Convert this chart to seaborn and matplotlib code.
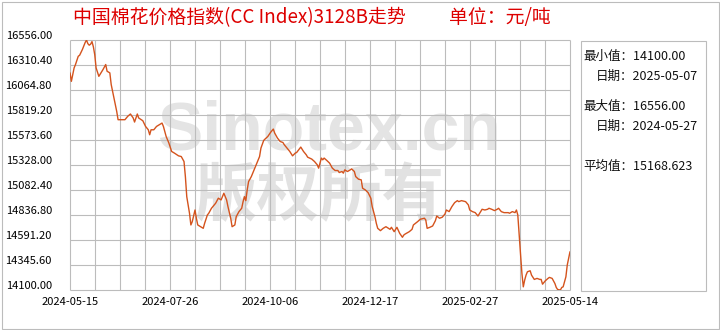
import numpy as np
import pandas as pd
import matplotlib
matplotlib.use("Agg")
import matplotlib.pyplot as plt
import matplotlib.dates as mdates
import matplotlib.transforms as mtransforms
from matplotlib.patches import Rectangle
import seaborn as sns

# ---------------- data ----------------
dates = [
    "2024-05-15", "2024-05-16", "2024-05-18", "2024-05-19", "2024-05-21", "2024-05-22", "2024-05-24",
    "2024-05-25", "2024-05-26", "2024-05-27", "2024-05-28", "2024-05-29", "2024-05-30", "2024-05-31",
    "2024-06-01", "2024-06-02", "2024-06-03", "2024-06-05", "2024-06-08", "2024-06-10", "2024-06-11",
    "2024-06-13", "2024-06-14", "2024-06-16", "2024-06-18", "2024-06-19", "2024-06-20", "2024-06-24",
    "2024-06-26", "2024-06-28", "2024-06-30",
    "2024-07-01", "2024-07-03", "2024-07-04", "2024-07-07", "2024-07-09", "2024-07-11", "2024-07-12",
    "2024-07-13", "2024-07-15", "2024-07-17", "2024-07-19", "2024-07-21", "2024-07-22", "2024-07-24",
    "2024-07-26", "2024-07-28", "2024-07-30",
    "2024-08-02", "2024-08-04", "2024-08-06", "2024-08-07", "2024-08-08", "2024-08-10", "2024-08-11",
    "2024-08-12", "2024-08-14", "2024-08-15", "2024-08-16", "2024-08-18", "2024-08-20", "2024-08-21",
    "2024-08-23", "2024-08-24", "2024-08-26", "2024-08-29", "2024-08-31",
    "2024-09-02", "2024-09-04", "2024-09-06", "2024-09-07", "2024-09-09", "2024-09-10", "2024-09-12",
    "2024-09-13", "2024-09-15", "2024-09-17", "2024-09-18", "2024-09-19", "2024-09-20", "2024-09-21",
    "2024-09-22", "2024-09-24", "2024-09-26", "2024-09-28", "2024-09-30",
    "2024-10-01", "2024-10-03", "2024-10-04", "2024-10-06", "2024-10-08", "2024-10-10", "2024-10-11",
    "2024-10-13", "2024-10-15", "2024-10-17", "2024-10-18", "2024-10-20", "2024-10-22", "2024-10-24",
    "2024-10-26", "2024-10-27", "2024-10-30",
    "2024-11-01", "2024-11-03", "2024-11-04", "2024-11-07", "2024-11-09", "2024-11-11", "2024-11-12",
    "2024-11-13", "2024-11-14", "2024-11-15", "2024-11-16", "2024-11-18", "2024-11-20", "2024-11-22",
    "2024-11-24", "2024-11-26", "2024-11-27", "2024-11-29", "2024-11-30",
    "2024-12-01", "2024-12-03", "2024-12-05", "2024-12-06", "2024-12-08", "2024-12-09", "2024-12-11",
    "2024-12-13", "2024-12-14", "2024-12-16", "2024-12-18", "2024-12-20", "2024-12-21", "2024-12-23",
    "2024-12-24", "2024-12-25", "2024-12-27", "2024-12-29", "2024-12-31",
    "2025-01-03", "2025-01-04", "2025-01-06", "2025-01-08", "2025-01-10", "2025-01-12", "2025-01-13",
    "2025-01-14", "2025-01-17", "2025-01-19", "2025-01-20", "2025-01-23", "2025-01-25", "2025-01-28",
    "2025-01-29", "2025-01-30",
    "2025-02-01", "2025-02-03", "2025-02-05", "2025-02-06", "2025-02-08", "2025-02-10", "2025-02-12",
    "2025-02-13", "2025-02-15", "2025-02-17", "2025-02-19", "2025-02-21", "2025-02-22", "2025-02-24",
    "2025-02-27",
    "2025-03-01", "2025-03-02", "2025-03-04", "2025-03-06", "2025-03-08", "2025-03-10", "2025-03-11",
    "2025-03-13", "2025-03-15", "2025-03-16", "2025-03-18", "2025-03-20", "2025-03-22", "2025-03-23",
    "2025-03-25", "2025-03-27", "2025-03-30", "2025-03-31",
    "2025-04-02", "2025-04-04", "2025-04-05", "2025-04-06", "2025-04-07", "2025-04-08", "2025-04-09",
    "2025-04-10", "2025-04-11", "2025-04-12", "2025-04-13", "2025-04-15", "2025-04-16", "2025-04-18",
    "2025-04-20", "2025-04-22", "2025-04-23", "2025-04-24", "2025-04-26", "2025-04-28", "2025-04-29",
    "2025-05-01", "2025-05-03", "2025-05-04", "2025-05-05", "2025-05-07", "2025-05-08", "2025-05-09",
    "2025-05-11", "2025-05-12", "2025-05-13", "2025-05-14",
]
prices = [
    16233, 16150, 16282, 16315, 16396, 16406, 16462,
    16495, 16530, 16556, 16520, 16505, 16515, 16540,
    16490, 16413, 16282, 16199, 16265, 16315, 16249,
    16233, 16118, 15987, 15855, 15773, 15773, 15773,
    15806, 15829, 15790,
    15750, 15829, 15790, 15763, 15707, 15674, 15625,
    15674, 15674, 15707, 15724, 15740, 15707, 15608,
    15543, 15461, 15445,
    15418, 15411, 15362, 15214, 15017, 14854, 14739,
    14771, 14886, 14805, 14739, 14722, 14706, 14755,
    14837, 14854, 14903, 14952, 15002,
    14985, 15051, 14985, 14919, 14805, 14722, 14739,
    14820, 14870, 14903, 14968, 15017, 14978, 15083,
    15165, 15214, 15280, 15346, 15411,
    15494, 15569, 15583, 15608, 15648, 15681, 15642,
    15593, 15559, 15549, 15527, 15494, 15461, 15418,
    15445, 15451, 15504,
    15461, 15428, 15405, 15386, 15362, 15330, 15297,
    15346, 15396, 15379, 15396, 15372, 15346, 15297,
    15274, 15274, 15254, 15264, 15248,
    15280, 15264, 15280, 15290, 15264, 15214, 15189,
    15182, 15100, 15083, 15057, 15002, 14919, 14820,
    14755, 14706, 14683, 14706, 14722,
    14696, 14716, 14673, 14716, 14657, 14618, 14640,
    14650, 14673, 14696, 14739, 14771, 14795, 14805,
    14788, 14706,
    14716, 14729, 14781, 14827, 14805, 14815, 14847,
    14886, 14870, 14919, 14958, 14978, 14968, 14978,
    14968,
    14936, 14886, 14870, 14860, 14827, 14870, 14893,
    14886, 14893, 14903, 14893, 14880, 14893, 14903,
    14870, 14860, 14860, 14854,
    14870, 14860, 14886, 14837, 14640, 14450, 14263,
    14131, 14197, 14246, 14279, 14289, 14246, 14204,
    14214, 14204, 14204, 14157, 14190, 14214, 14224,
    14214, 14164, 14125, 14105, 14100, 14125, 14131,
    14229, 14345, 14411, 14476,
]
x_tick_labels = ["2024-05-15", "2024-07-26", "2024-10-06", "2024-12-17", "2025-02-27", "2025-05-14"]
y_min, y_max = 14100.00, 16556.00

title_main = "中国棉花价格指数(CC Index)3128B走势"
title_unit = "单位：元/吨"
stats_lines = [
    ("最小值：14100.00", 0),
    ("日期：2025-05-07", 1),
    ("最大值：16556.00", 0),
    ("日期：2024-05-27", 1),
    ("平均值：15168.623", 0),
]
watermark_1 = "Sinotex.cn"
watermark_2 = "版权所有"

df = pd.DataFrame({"date": pd.to_datetime(dates), "price": prices})

# ---------------- style ----------------
sns.set_theme(style="white")
plt.rcParams["font.family"] = ["Noto Sans CJK SC", "DejaVu Sans"]
plt.rcParams["axes.unicode_minus"] = False

W, H = 720, 330
fig = plt.figure(figsize=(7.2, 3.3), dpi=100)
fig.patch.set_facecolor("white")

def fx(px):
    return px / W

def fy(py):
    return 1 - py / H

L, R, T, B = 70, 570, 40, 290
ax = fig.add_axes([fx(L), fy(B), fx(R - L), (B - T) / H])

grid_c = "#bcbcbc"

sns.lineplot(data=df, x="date", y="price", ax=ax, color="#d4531d", linewidth=1.0, zorder=3)

x0 = mdates.date2num(pd.Timestamp(x_tick_labels[0]))
x1 = mdates.date2num(pd.Timestamp(x_tick_labels[-1]))
xgrid = np.linspace(x0, x1, 21)
ygrid = np.linspace(y_min, y_max, 11)

ax.set_xlim(x0, x1)
ax.set_ylim(y_min, y_max)

vl = ax.vlines(xgrid, y_min, y_max, colors=grid_c, linewidths=0.8, zorder=1, clip_on=False)
hl = ax.hlines(ygrid, x0, x1, colors=grid_c, linewidths=0.8, zorder=1, clip_on=False)
vl.set_snap(True)
hl.set_snap(True)

ax.text(0.518, 0.635, watermark_1, transform=ax.transAxes, ha="center", va="center",
        fontsize=49, fontweight="bold", family=["Liberation Sans", "DejaVu Sans"],
        color="#e4e4e4", zorder=0.1)
ax.text(0.50, 0.375, watermark_2, transform=ax.transAxes, ha="center", va="center",
        fontsize=45, fontweight="bold", family=["Noto Sans CJK SC", "DejaVu Sans"],
        color="#e2e2e2", zorder=0.1)

ax.set_xticks(xgrid[::4])
ax.set_xticklabels(x_tick_labels)
ax.set_yticks(ygrid)
ax.set_yticklabels([f"{v:.2f}" for v in ygrid])
ax.set_xlabel("")
ax.set_ylabel("")
for s in ax.spines.values():
    s.set_visible(False)
ax.tick_params(axis="both", which="both", length=0, colors="#000000", labelsize=8)
ax.tick_params(axis="y", pad=13)
ax.tick_params(axis="x", pad=5)
offset = mtransforms.ScaledTranslation(0, 5 / 100, fig.dpi_scale_trans)
for lab in ax.get_yticklabels():
    lab.set_transform(lab.get_transform() + offset)

fig.text(fx(73), fy(18), title_main, color="#dd0000", fontsize=13.6, ha="left", va="center")
fig.text(fx(449), fy(18), title_unit, color="#dd0000", fontsize=13.6, ha="left", va="center")

panel = Rectangle((fx(580.5), fy(290.5)), fx(706 - 580.5), (290.5 - 40.5) / H,
                  transform=fig.transFigure, fill=False, edgecolor=grid_c, linewidth=0.8)
panel.set_snap(True)
fig.patches.append(panel)
ys = [56, 76, 106, 126, 166]
for (txt, indent), yy in zip(stats_lines, ys):
    fig.text(fx(583 + 13 * indent), fy(yy), txt, fontsize=9, color="#111111", ha="left", va="center")

frame = Rectangle((fx(1.5), fy(328.5)), fx(717), 327 / H,
                  transform=fig.transFigure, fill=False, edgecolor=grid_c, linewidth=0.8)
frame.set_snap(True)
fig.patches.append(frame)

fig.savefig("out.png", dpi=100)
